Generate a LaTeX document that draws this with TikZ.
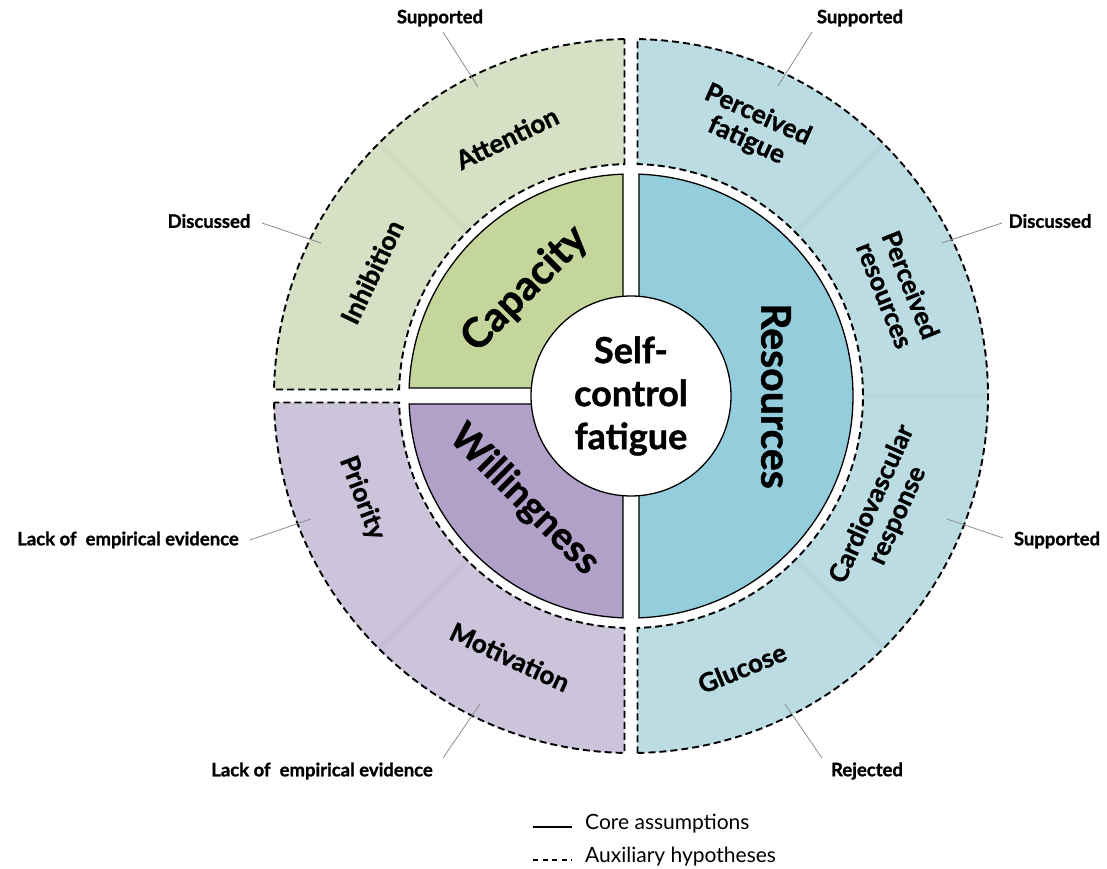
\documentclass[tikz,border=0pt]{standalone}
\usepackage{fontspec}
\setmainfont{Lato}[BoldFeatures={FakeBold=1.2}]
\begin{document}
\begin{tikzpicture}[x=1pt,y=1pt,
  outerpiece/.style={draw=black, line width=1.9pt, dash pattern=on 7pt off 4pt},
  corepiece/.style={draw=black, line width=1.3pt},
  seam/.style={line width=5pt, opacity=0.13},
  bandlabel/.style={font=\bfseries\fontsize{26}{28}\selectfont, align=center, inner sep=0pt},
  midlabel/.style={font=\bfseries\fontsize{41}{43}\selectfont, inner sep=0pt},
  annot/.style={font=\bfseries\fontsize{18.5}{21}\selectfont, inner sep=0pt},
  annotline/.style={draw=black!45, line width=0.8pt},
  legendtext/.style={font=\fontsize{21}{24}\selectfont, anchor=west, inner sep=0pt}]
\definecolor{ogreen}{RGB}{213,224,196}
\definecolor{mgreen}{RGB}{197,214,156}
\definecolor{opurple}{RGB}{204,196,218}
\definecolor{mpurple}{RGB}{177,161,200}
\definecolor{oblue}{RGB}{188,220,228}
\definecolor{mblue}{RGB}{148,206,220}
\useasboundingbox (-631,-473) rectangle (476,396);
\def\Ro{357}\def\Ri{232}\def\Rm{222}\def\go{6.5}\def\gm{8}
\pgfmathsetmacro\ao{asin(\go/\Ro)}
\pgfmathsetmacro\ai{asin(\go/\Ri)}
\pgfmathsetmacro\am{asin(\gm/\Rm)}
% outer band fills
\fill[ogreen] (90+\ao:\Ro) arc[start angle=90+\ao, end angle=180-\ao, radius=\Ro] -- (180-\ai:\Ri) arc[start angle=180-\ai, end angle=90+\ai, radius=\Ri] -- cycle;
\fill[opurple] (180+\ao:\Ro) arc[start angle=180+\ao, end angle=270-\ao, radius=\Ro] -- (270-\ai:\Ri) arc[start angle=270-\ai, end angle=180+\ai, radius=\Ri] -- cycle;
\fill[oblue] (-90+\ao:\Ro) arc[start angle=-90+\ao, end angle=90-\ao, radius=\Ro] -- (90-\ai:\Ri) arc[start angle=90-\ai, end angle=-90+\ai, radius=\Ri] -- cycle;
% faint seams
\draw[seam, draw=ogreen!80!black] (135:\Ri) -- (135:\Ro);
\draw[seam, draw=opurple!80!black] (225:\Ri) -- (225:\Ro);
\draw[seam, draw=oblue!80!black] (45:\Ri) -- (45:\Ro);
\draw[seam, draw=oblue!80!black] (0:\Ri) -- (0:\Ro);
\draw[seam, draw=oblue!80!black] (-45:\Ri) -- (-45:\Ro);
% outer band borders
\draw[outerpiece] (90+\ao:\Ro) arc[start angle=90+\ao, end angle=180-\ao, radius=\Ro] -- (180-\ai:\Ri) arc[start angle=180-\ai, end angle=90+\ai, radius=\Ri] -- cycle;
\draw[outerpiece] (180+\ao:\Ro) arc[start angle=180+\ao, end angle=270-\ao, radius=\Ro] -- (270-\ai:\Ri) arc[start angle=270-\ai, end angle=180+\ai, radius=\Ri] -- cycle;
\draw[outerpiece] (-90+\ao:\Ro) arc[start angle=-90+\ao, end angle=90-\ao, radius=\Ro] -- (90-\ai:\Ri) arc[start angle=90-\ai, end angle=-90+\ai, radius=\Ri] -- cycle;
% middle band
\draw[corepiece, fill=mgreen] (-\gm,\gm) -- (90+\am:\Rm) arc[start angle=90+\am, end angle=180-\am, radius=\Rm] -- cycle;
\draw[corepiece, fill=mpurple] (-\gm,-\gm) -- (180+\am:\Rm) arc[start angle=180+\am, end angle=270-\am, radius=\Rm] -- cycle;
\draw[corepiece, fill=mblue] (-90+\am:\Rm) arc[start angle=-90+\am, end angle=90-\am, radius=\Rm] -- cycle;
% centre
\node[circle, draw=black, line width=1.3pt, fill=white, minimum size=200pt, inner sep=0pt,
  font=\bfseries\fontsize{36}{43}\selectfont, align=center] (centre) at (0,0) {Self-\\control\\fatigue};
% middle labels
\node[midlabel, rotate=45] (capacity) at (-106,107) {Capacity};
\node[midlabel, rotate=-45, font=\bfseries\fontsize{38}{40}\selectfont] (willingness) at (-107,-104) {Willingness};
\node[midlabel, rotate=-90] (resources) at (145,0) {Resources};
% outer labels
\node[bandlabel, rotate=25.7] (attention) at (-124,258) {Attention};
\node[bandlabel, rotate=64.4] (inhibition) at (-259,124) {Inhibition};
\node[bandlabel, rotate=-24.3] (pfatigue) at (121,268) {Perceived\\fatigue};
\node[bandlabel, rotate=-68.3] (presources) at (267,106) {Perceived\\resources};
\node[bandlabel, rotate=65.8] (cardio) at (254,-114) {Cardiovascular\\response};
\node[bandlabel, rotate=22.2] (glucose) at (111,-272) {Glucose};
\node[bandlabel, rotate=-69.2] (priority) at (-269,-102) {Priority};
\node[bandlabel, rotate=-24.9] (motivation) at (-121,-261) {Motivation};
% annotations
\node[annot] (a1) at (-191,378) {Supported};
\node[annot] (a2) at (229,378) {Supported};
\node[annot] (a3) at (-422,175) {Discussed};
\node[annot] (a4) at (419,175) {Discussed};
\node[annot] (a5) at (-503,-144) {Lack of\ \ empirical evidence};
\node[annot] (a6) at (-309,-375) {Lack of\ \ empirical evidence};
\node[annot] (a7) at (426,-144) {Supported};
\node[annot] (a8) at (236,-375) {Rejected};
\coordinate (s1) at (-188,364); \coordinate (e1) at (-153,309);
\coordinate (s2) at (181,364);  \coordinate (e2) at (147,310);
\coordinate (s3) at (-369,173); \coordinate (e3) at (-310,153);
\coordinate (s4) at (371,173);  \coordinate (e4) at (311,153);
\coordinate (s5) at (-381,-144); \coordinate (e5) at (-320,-123);
\coordinate (s6) at (-188,-362); \coordinate (e6) at (-151,-308);
\coordinate (s7) at (372,-142); \coordinate (e7) at (316,-123);
\coordinate (s8) at (191,-362); \coordinate (e8) at (154,-308);
\foreach \i in {1,...,8} {\draw[annotline] (s\i) -- (e\i);}
% legend
\coordinate (l1a) at (-98,-431); \coordinate (l1b) at (-59,-431);
\coordinate (l2a) at (-98,-464); \coordinate (l2b) at (-59,-464);
\draw[line width=1.2pt] (l1a) -- (l1b);
\draw[line width=1.2pt, dash pattern=on 5pt off 4.5pt] (l2a) -- (l2b);
\node[legendtext] (core) at (-46,-428) {Core assumptions};
\node[legendtext] (aux) at (-46,-461) {Auxiliary hypotheses};
\end{tikzpicture}
\end{document}
